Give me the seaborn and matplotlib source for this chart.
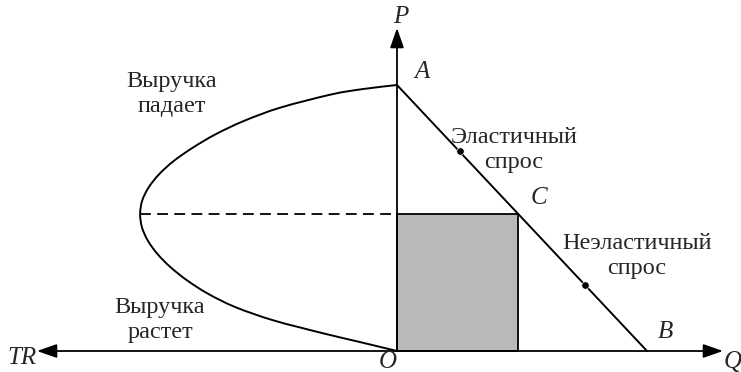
import numpy as np
import pandas as pd
import matplotlib
matplotlib.use("Agg")
import matplotlib.pyplot as plt
from matplotlib.path import Path
from matplotlib.patches import PathPatch
import seaborn as sns

# ---- data ----
demand_Q = [0.0, 10.0]          # A (0,10) -> B (10,0)
demand_P = [10.0, 0.0]
dots_Q = [2.5, 7.5]
dots_P = [7.5, 2.5]
C_Q, C_P = 4.85, 5.15
# total revenue curve (TR drawn leftwards)
tr_P = [0, 0.35, 0.65, 1.15, 1.65, 2.15, 2.65, 3.15, 3.65, 4.15, 4.65, 5.15,
        5.65, 6.15, 6.65, 7.15, 7.65, 8.15, 8.65, 9.15, 9.65, 9.85, 10.0]
tr_TR = [0, 3.75, 7.03, 12.01, 15.73, 18.38, 20.41, 22.04, 23.32, 24.25, 24.82, 25.0,
         24.80, 24.17, 23.14, 21.71, 19.85, 17.64, 14.89, 11.35, 6.33, 3.27, 0]
TR_SCALE = 0.411  # TR units -> horizontal axis units (drawn to the left)

sns.set_theme(style="white")
plt.rcParams['font.family'] = ['Liberation Serif', 'DejaVu Serif']

fig = plt.figure(figsize=(7.41, 3.72), dpi=100)
ax = fig.add_axes([0, 0, 1, 1])

def px(x):  # pixel -> data x
    return (x - 397) / 25.0
def py(y):  # pixel -> data y
    return (351 - y) / 26.6

ax.set_xlim(px(0), px(741))
ax.set_ylim(py(372), py(0))
ax.axis('off')

# shaded revenue rectangle
ax.fill_between([0, C_Q], 0, C_P, color='#b9b9b9', edgecolor='black', linewidth=1.3, zorder=1)

# TR curve (to the left), rendered as a smooth path through the data points
tr_df = pd.DataFrame({'x': -np.array(tr_TR) * TR_SCALE, 'P': tr_P})
pts = tr_df[['x', 'P']].to_numpy(dtype=float)
verts = [tuple(pts[0])]
codes = [Path.MOVETO]
n = len(pts)
for i in range(n - 1):
    p0 = pts[i - 1] if i > 0 else pts[i]
    p1, p2 = pts[i], pts[i + 1]
    p3 = pts[i + 2] if i + 2 < n else pts[i + 1]
    c1 = p1 + (p2 - p0) / 6.0
    c2 = p2 - (p3 - p1) / 6.0
    verts += [tuple(c1), tuple(c2), tuple(p2)]
    codes += [Path.CURVE4] * 3
ax.add_patch(PathPatch(Path(verts, codes), facecolor='none', edgecolor='black', lw=1.4, zorder=3))

# dashed line from vertex to axis
ax.plot([-max(tr_TR) * TR_SCALE, 0], [C_P, C_P], color='black', linestyle=(0, (6, 3.5)), linewidth=1.3)

# demand line
dem_df = pd.DataFrame({'Q': demand_Q, 'P': demand_P})
sns.lineplot(data=dem_df, x='Q', y='P', sort=False, estimator=None, color='black', linewidth=1.4, ax=ax)
sns.scatterplot(x=dots_Q, y=dots_P, color='black', s=28, ax=ax, zorder=5)

# axes with arrows
arrow = dict(arrowstyle='-|>,head_length=1.0,head_width=0.35', color='black', lw=1.3, shrinkA=0, shrinkB=0)
ax.annotate('', xy=(px(723), 0), xytext=(0, 0), arrowprops=arrow)
ax.annotate('', xy=(px(37), 0), xytext=(0, 0), arrowprops=arrow)
ax.annotate('', xy=(0, py(28)), xytext=(0, 0), arrowprops=arrow)

lab = dict(fontsize=18, style='italic', ha='center', va='center')
ax.text(px(401), py(17), 'P', **lab)
ax.text(px(422), py(72), 'A', **lab)
ax.text(px(539), py(198), 'C', **lab)
ax.text(px(665), py(332), 'B', **lab)
ax.text(px(388), py(362), 'O', **lab)
ax.text(px(22), py(358), 'TR', **lab)
ax.text(px(733), py(362), 'Q', **lab)

txt = dict(fontsize=17.5, ha='center', va='center', linespacing=1.2)
ax.text(px(172), py(94), 'Выручка\nпадает', **txt)
ax.text(px(160), py(320), 'Выручка\nрастет', **txt)
ax.text(px(514), py(150), 'Эластичный\nспрос', **txt)
ax.text(px(637), py(256), 'Неэластичный\nспрос', **txt)

fig.savefig('out.png', dpi=100)
